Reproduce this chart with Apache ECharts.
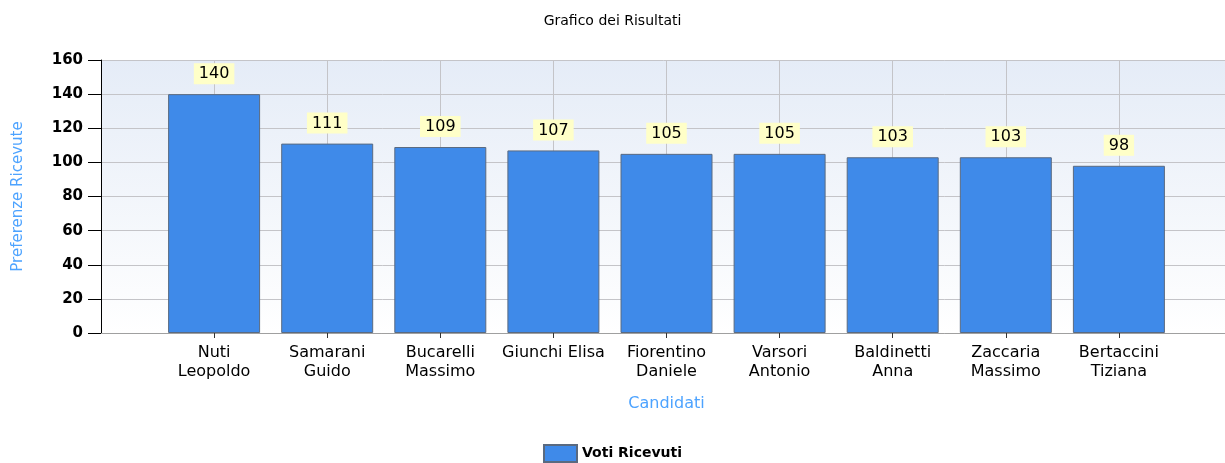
<!DOCTYPE html>
<html>
<head>
<meta charset="utf-8">
<script src="https://cdn.jsdelivr.net/npm/echarts@6/dist/echarts.min.js"></script>
<style>
  html, body { margin: 0; padding: 0; background: #fff; }
  #chart { width: 1225px; height: 463px; }
</style>
</head>
<body>
<div id="chart"></div>
<script>
// dati del grafico
var candidati = [
    'Nuti\nLeopoldo', 'Samarani\nGuido', 'Bucarelli\nMassimo', 'Giunchi Elisa',
    'Fiorentino\nDaniele', 'Varsori\nAntonio', 'Baldinetti\nAnna', 'Zaccaria\nMassimo',
    'Bertaccini\nTiziana'
];
var voti = [140, 111, 109, 107, 105, 105, 103, 103, 98];
var yTicks = [0, 20, 40, 60, 80, 100, 120, 140, 160];

// asse con una posizione vuota ai due lati, come nel grafico originale
var xData = [''].concat(candidati, ['']);
var yData = [null].concat(voti, [null]);

var myChart = echarts.init(document.getElementById('chart'));
myChart.setOption({
    animation: false,
    textStyle: { fontFamily: 'DejaVu Sans' },
    title: {
        text: 'Grafico dei Risultati',
        left: 'center',
        top: 9,
        textStyle: { fontSize: 14, fontWeight: 'normal', color: '#000' }
    },
    legend: {
        top: 439,
        left: 'center',
        icon: 'rect',
        itemWidth: 33,
        itemHeight: 17,
        textStyle: { fontSize: 14, fontWeight: 'bold', color: '#000' },
        data: ['Voti Ricevuti']
    },
    grid: {
        left: 101,
        top: 60,
        width: 1131,
        height: 273,
        outerBoundsMode: 'none',
        containLabel: false,
        show: true,
        borderWidth: 0,
        backgroundColor: new echarts.graphic.LinearGradient(0, 0, 0, 1, [
            { offset: 0, color: '#e5ecf7' },
            { offset: 1, color: '#ffffff' }
        ])
    },
    xAxis: {
        type: 'category',
        data: xData,
        boundaryGap: false,
        name: 'Candidati',
        nameLocation: 'middle',
        nameGap: 63,
        nameTextStyle: { color: '#4da3ff', fontSize: 16 },
        axisLine: { lineStyle: { color: '#a0a0a0' } },
        axisTick: {
            length: 5,
            interval: function (i) { return i > 0 && i < xData.length - 1; },
            lineStyle: { color: '#333' }
        },
        axisLabel: {
            interval: 0,
            color: '#000',
            fontSize: 16,
            lineHeight: 19,
            margin: 10
        },
        splitLine: { show: true, lineStyle: { color: '#c4c4c8' } }
    },
    yAxis: {
        type: 'value',
        min: yTicks[0],
        max: yTicks[yTicks.length - 1],
        interval: 20,
        name: 'Preferenze Ricevute',
        nameLocation: 'middle',
        nameGap: 75,
        nameTextStyle: { color: '#4da3ff', fontSize: 15 },
        axisLine: { show: true, lineStyle: { color: '#000' } },
        axisTick: { show: true, length: 13, lineStyle: { color: '#000' } },
        axisLabel: { color: '#000', fontSize: 15, fontWeight: 'bold', margin: 18 },
        splitLine: { lineStyle: { color: '#c4c4c8' } }
    },
    series: [{
        name: 'Voti Ricevuti',
        type: 'bar',
        data: yData,
        barWidth: 92,
        itemStyle: { color: '#3f8ae9', borderColor: '#5a6a80', borderWidth: 1 },
        label: {
            show: true,
            position: 'top',
            distance: 10,
            color: '#000',
            fontSize: 16,
            backgroundColor: '#ffffc8',
            padding: [3, 5, 2, 5]
        }
    }]
});
</script>
</body>
</html>
